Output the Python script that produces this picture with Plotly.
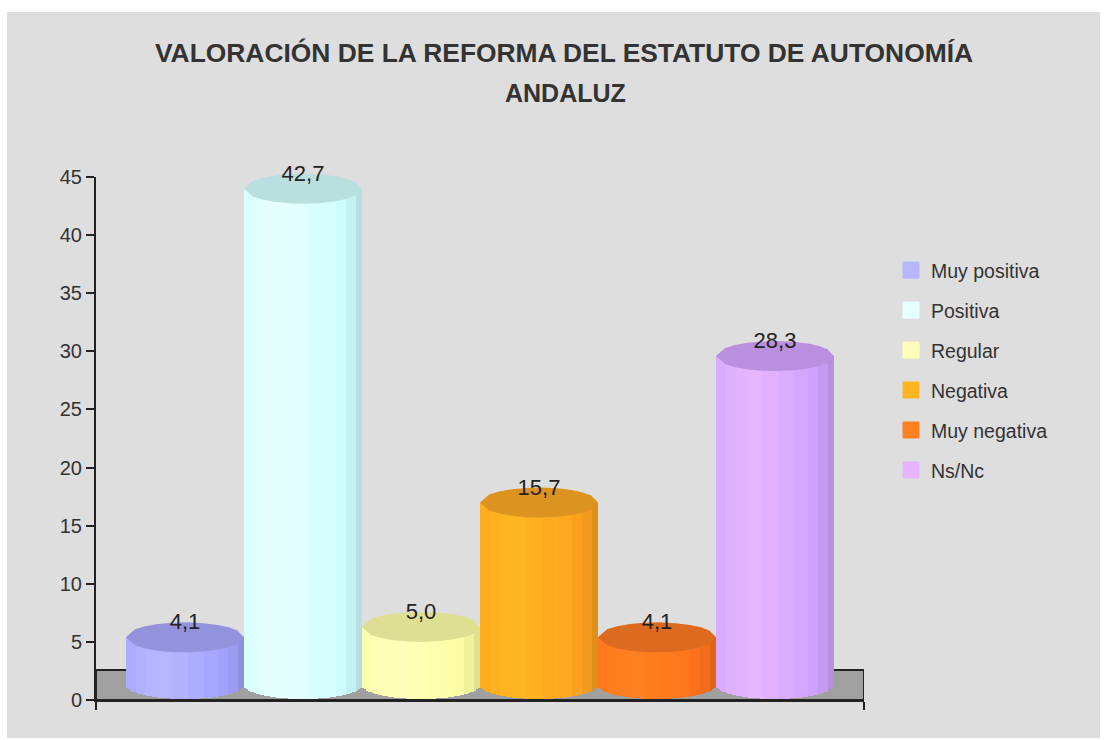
import math
import plotly.graph_objects as go

W, H = 1104, 740
TITLE = "VALORACIÓN DE LA REFORMA DEL ESTATUTO DE AUTONOMÍA"
TITLE_LINE2 = "ANDALUZ"
categories = ["Muy positiva", "Positiva", "Regular", "Negativa", "Muy negativa", "Ns/Nc"]
values = [4.1, 42.7, 5.0, 15.7, 4.1, 28.3]
tick_values = [0, 5, 10, 15, 20, 25, 30, 35, 40, 45]
body_colors = ["#B6B6FF", "#E6FFFF", "#FFFFB9", "#FFB522", "#FF8020", "#E6B5FF"]
cap_colors = ["#9393DD", "#B9DFDF", "#DFDF93", "#DD9320", "#DD6B1F", "#BB8FE0"]

# cylinder styling
facet_edges = [0, .077, .162, .27, .389, .517, .659, .778, .872, .943, 1]
facet_shade = [.95, .97, .99, 1, .98, .95, .92, .89, .85, .79]
PX_PER_UNIT = (700 - 177) / 45
CAP_H = 15 / PX_PER_UNIT
FOOT_H = 14 / PX_PER_UNIT
STRIPS = 59
FONT = "Liberation Sans, Arial, sans-serif"
DARK = "#222222"
TEXT = "#333333"


def px_y(p):
    return 1 - p / H


def px_x(p):
    return p / W


def hex_rgb(c):
    return [int(c[i:i + 2], 16) for i in (1, 3, 5)]


def shade(c, f):
    rgb = hex_rgb(c)
    top = max(rgb)
    out = []
    for v in rgb:
        out.append(round(top * min(1, f / .9)) if v == top else round(v * f))
    return "rgb(%d,%d,%d)" % tuple(out)


def half(u):
    return math.sqrt(max(0, 1 - (2 * u - 1) ** 2))


fig = go.Figure()

# cylinder bodies: narrow bars, real values, rounded foot from a per-strip base
for i, (val, col) in enumerate(zip(values, body_colors)):
    xs, ys, bases, cols = [], [], [], []
    for s in range(STRIPS):
        u = (s + .5) / STRIPS
        k = next(j for j in range(len(facet_shade)) if u <= facet_edges[j + 1])
        b = -FOOT_H * half(u)
        xs.append(i + u - .5)
        bases.append(b)
        ys.append(val - b)
        cols.append(shade(col, facet_shade[k]))
    fig.add_trace(go.Bar(x=xs, y=ys, base=bases, width=1 / STRIPS, xaxis="x2", yaxis="y2",
                         marker=dict(color=cols, line=dict(width=0)),
                         showlegend=False, hoverinfo="skip"))

# cylinder caps
for i, (val, col) in enumerate(zip(values, cap_colors)):
    us = facet_edges + facet_edges[::-1]
    n = len(facet_edges)
    cx = [i + u - .5 for u in us]
    cy = [val + (-1 if j < n else 1) * CAP_H * half(u) for j, u in enumerate(us)]
    fig.add_trace(go.Scatter(x=cx, y=cy, xaxis="x2", yaxis="y2", mode="lines", fill="toself",
                             fillcolor=col, line=dict(width=0), showlegend=False, hoverinfo="skip"))

# value labels
fig.add_trace(go.Scatter(x=list(range(len(values))), y=[v + 13.5 / PX_PER_UNIT for v in values],
                         xaxis="x2", yaxis="y2", mode="text",
                         text=[f"{v:.1f}".replace(".", ",") for v in values],
                         textposition="middle center",
                         textfont=dict(family=FONT, size=22, color=DARK),
                         showlegend=False, hoverinfo="skip", cliponaxis=False))

# legend entries
for name, col in zip(categories, body_colors):
    fig.add_trace(go.Scatter(x=[None], y=[None], name=name, legendgroup=name, mode="markers",
                             xaxis="x2", yaxis="y2",
                             marker=dict(symbol="square", size=16, color=col,
                                         line=dict(width=1, color=col))))

fig.update_layout(
    width=W, height=H, margin=dict(l=0, r=0, t=0, b=0, autoexpand=False),
    paper_bgcolor="white", plot_bgcolor="rgba(0,0,0,0)",
    barmode="overlay", bargap=0,
    title=dict(text=TITLE, x=564 / W, xanchor="center", xref="paper", y=1 - 44 / H, yanchor="top",
               font=dict(family=FONT, size=26.4, color=TEXT, weight="bold")),
    annotations=[dict(text=TITLE_LINE2, xref="paper", yref="paper", x=565 / W, y=px_y(93),
                      xanchor="center", yanchor="middle", showarrow=False,
                      font=dict(family=FONT, size=25, color=TEXT, weight="bold"))],
    xaxis=dict(domain=[px_x(96), px_x(864)], range=[0, 1], tickvals=[0, 1], ticktext=["", ""],
               ticks="outside", ticklen=8, tickwidth=2, tickcolor=DARK, showline=True,
               linecolor=DARK, linewidth=2, showgrid=False, zeroline=False, fixedrange=True),
    yaxis=dict(domain=[px_y(700), px_y(177)], range=[0, 45], tickvals=tick_values,
               ticks="outside", ticklen=8, tickwidth=2, tickcolor=DARK, showline=True,
               linecolor=DARK, linewidth=2, showgrid=False, zeroline=False, fixedrange=True,
               tickfont=dict(family=FONT, size=20, color=TEXT)),
    xaxis2=dict(domain=[px_x(96), px_x(864)], range=[-.754, 5.754], visible=False, anchor="y2", fixedrange=True),
    yaxis2=dict(domain=[px_y(720), px_y(150)], range=[-35 / PX_PER_UNIT, 535 / PX_PER_UNIT],
                visible=False, anchor="x2", fixedrange=True),
    legend=dict(x=px_x(891), y=px_y(251), xanchor="left", yanchor="top", bgcolor="rgba(0,0,0,0)",
                font=dict(family=FONT, size=19.5, color=TEXT), tracegroupgap=11.6, itemsizing="trace"),
    shapes=[
        dict(type="rect", xref="paper", yref="paper", x0=px_x(7), x1=px_x(1100), y0=px_y(738), y1=px_y(12),
             fillcolor="#DEDEDE", line=dict(width=0), layer="below"),
        dict(type="rect", xref="x", yref="y", x0=0, x1=1, y0=0, y1=30 / PX_PER_UNIT,
             fillcolor="#A0A0A0", line=dict(width=2, color=DARK), layer="below"),
    ],
)

fig.write_html("out.html", include_plotlyjs=True, config=dict(displayModeBar=False),
               post_script="document.body.style.margin='0';document.body.style.overflow='hidden';")
